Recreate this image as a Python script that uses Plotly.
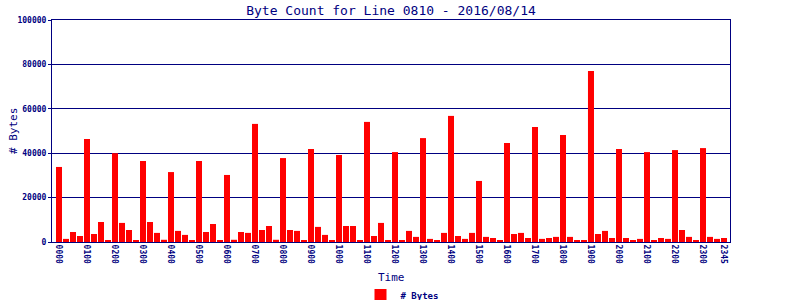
import plotly.graph_objects as go

hours = [f"{h:02d}00" for h in range(24)]
times = [f"{h:02d}{m:02d}" for h in range(24) for m in (0, 15, 30, 45)]

byte_counts = [
    33800, 1400, 4500, 2700,
    46400, 3600, 9000, 500,
    40000, 8600, 5400, 500,
    36500, 9000, 4100, 1000,
    31500, 5000, 3200, 500,
    36500, 4500, 8100, 500,
    30200, 1000, 4500, 4100,
    53200, 5400, 7200, 1000,
    37800, 5400, 5000, 900,
    41900, 6800, 3200, 900,
    39200, 7200, 7200, 900,
    54100, 2700, 8600, 900,
    40500, 900, 5000, 2300,
    46800, 1400, 500, 4100,
    56800, 2700, 1400, 4100,
    27500, 2300, 1800, 500,
    44600, 3600, 4100, 1800,
    51800, 1400, 1800, 2300,
    48200, 2300, 900, 900,
    77000, 3600, 5000, 1800,
    41900, 1800, 900, 1400,
    40500, 900, 1800, 1400,
    41400, 5400, 2300, 500,
    42300, 2300, 1400, 1800,
]

tick_labels = hours + ["2345"]
tick_pos = [times.index(t) for t in tick_labels]

y_ticks = [0, 20000, 40000, 60000, 80000, 100000]

NAVY = "#000080"
FONT = "DejaVu Sans Mono"

L, R, T, B = 52, 70, 20, 58
PW = 800 - L - R
PH = 300 - T - B

fig = go.Figure()
fig.add_trace(go.Bar(
    x=list(range(len(times))),
    y=byte_counts,
    name="# Bytes",
    marker=dict(color="#FF0000", line=dict(width=1, color="#808080")),
    width=0.86,
    showlegend=True,
))
# bars drawn without outline; outline only affects legend symbol via separate style
fig.data[0].marker.line.width = 0

fig.update_layout(
    width=800, height=300,
    margin=dict(l=L, r=R, t=T, b=B, autoexpand=False),
    paper_bgcolor="white",
    plot_bgcolor="white",
    title=dict(text="Byte Count for Line 0810 - 2016/08/14",
               x=0.5, xref="paper", y=290 / 300, yref="container",
               xanchor="center", yanchor="middle",
               font=dict(family=FONT, size=13, color=NAVY)),
    font=dict(family=FONT, color=NAVY),
    showlegend=True,
    legend=dict(orientation="h", x=0.5 + 11 / PW, xanchor="center", xref="paper",
                y=(300 - B - 295) / PH, yref="paper", yanchor="middle",
                font=dict(family=FONT, size=9, color=NAVY, weight="bold"),
                itemwidth=30, bgcolor="rgba(0,0,0,0)",
                traceorder="normal"),
    annotations=[
        dict(text="# Bytes", x=(13 - L) / PW, xref="paper", y=0.5, yref="paper",
             showarrow=False, textangle=-90, xanchor="center", yanchor="middle",
             font=dict(family=FONT, size=11, color=NAVY)),
        dict(text="Time", x=0.5, xref="paper", y=(300 - B - 277) / PH, yref="paper",
             showarrow=False, xanchor="center", yanchor="middle",
             font=dict(family=FONT, size=11, color=NAVY)),
    ],
)

fig.update_xaxes(
    range=[-1, 95.86],
    tickmode="array",
    tickvals=tick_pos,
    ticktext=tick_labels,
    tickangle=90,
    tickfont=dict(family=FONT, size=8, color=NAVY, weight="bold"),
    showgrid=False,
    zeroline=False,
    showline=True, linecolor=NAVY, linewidth=1, mirror=True,
    ticks="",
    automargin=False,
)

fig.update_yaxes(
    range=[0, 100000],
    tickmode="array",
    tickvals=y_ticks,
    ticktext=[str(v) for v in y_ticks],
    tickfont=dict(family=FONT, size=8, color=NAVY, weight="bold"),
    showgrid=True, gridcolor=NAVY, gridwidth=1,
    zeroline=False,
    showline=True, linecolor=NAVY, linewidth=1, mirror=True,
    ticks="outside", ticklen=3, tickcolor=NAVY,
    automargin=False,
)

fig.write_html("out.html")
